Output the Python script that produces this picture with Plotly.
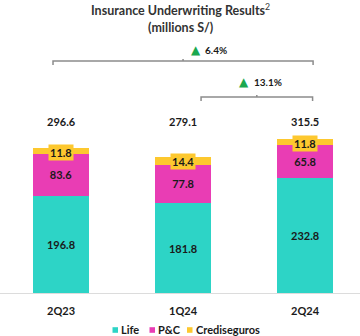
import plotly.graph_objects as go

categories = ["2Q23", "1Q24", "2Q24"]
life = [196.8, 181.8, 232.8]
pc = [83.6, 77.8, 65.8]
crediseguros = [11.8, 14.4, 11.8]
totals = [296.6, 279.1, 315.5]
growth_labels = ["6.4%", "13.1%"]
series_names = ["Life", "P&C", "Crediseguros"]

colors = ["#2DD4C6", "#E93DB4", "#FDC82F"]
FONT = "Lato"
W, H = 360, 336
BASE = 293           # pixel row of the baseline
PX_PER_UNIT = 0.495  # vertical pixels per data unit
X_PX = 122.0         # horizontal pixels per category
TXT = "#1a1a1a"


def py(px):
    """paper y from pixel row"""
    return (BASE - px) / BASE


def pxx(px):
    """paper x from pixel column"""
    return px / W


x_idx = list(range(len(categories)))

fig = go.Figure()
for name, vals, col, show in [
    (series_names[0], life, colors[0], True),
    (series_names[1], pc, colors[1], True),
    (series_names[2], crediseguros, colors[2], False),
]:
    fig.add_trace(go.Bar(
        x=x_idx, y=vals, name=name,
        marker=dict(color=col, line=dict(width=0)),
        width=0.46,
        text=[f"<b>{v:.1f}</b>" for v in vals] if show else None,
        textposition="inside" if show else "none",
        insidetextanchor="middle",
        textangle=0,
        textfont=dict(size=11, color=TXT, family=FONT),
        hoverinfo="skip",
        showlegend=False,
    ))

annotations = []
# yellow labels for Crediseguros
for i, (t, v) in enumerate(zip(totals, crediseguros)):
    annotations.append(dict(
        x=i, y=t, xref="x", yref="y", xanchor="center", yanchor="top", yshift=2,
        text=f"<b>{v:.1f}</b>", showarrow=False,
        bgcolor=colors[2], borderpad=1,
        font=dict(size=11, color=TXT, family=FONT),
    ))
# totals row
label_row = max(totals) + 30
for i, t in enumerate(totals):
    annotations.append(dict(
        x=i, y=label_row, xref="x", yref="y", xanchor="center", yanchor="middle",
        text=f"<b>{t:.1f}</b>", showarrow=False,
        font=dict(size=11, color=TXT, family=FONT),
    ))

# title
annotations.append(dict(
    x=0.5, y=py(9), xref="paper", yref="paper", xanchor="center", yanchor="middle",
    text="<b>Insurance Underwriting Results</b><sup>2</sup>", showarrow=False,
    font=dict(size=12.5, color="#333333", family=FONT),
))
annotations.append(dict(
    x=0.5, y=py(27), xref="paper", yref="paper", xanchor="center", yanchor="middle",
    text="<b>(millions S/)</b>", showarrow=False,
    font=dict(size=12.5, color="#333333", family=FONT),
))

# brackets
shapes = []
brackets = [
    # (x0, x1, pixel row, label, triangle px, text px, label row)
    (0 - 8 / X_PX, 2 + 8 / X_PX, 61, growth_labels[0], 196, 203, 50),
    (1 + 18 / X_PX, 2 + 7.5 / X_PX, 97, growth_labels[1], 244, 252, 82),
]
for x0, x1, row, lab, tri_px, txt_px, lrow in brackets:
    y = py(row)
    yd = py(row + 4)
    yu = py(row - 2)
    xm = (x0 + x1) / 2
    shapes.append(dict(
        type="path", xref="x", yref="paper",
        path=f"M {x0},{yd} L {x0},{y} L {x1},{y} L {x1},{yd}",
        line=dict(color="#8c8c8c", width=1.5),
    ))
    shapes.append(dict(
        type="line", xref="x", yref="paper",
        x0=xm, x1=xm, y0=y, y1=yu,
        line=dict(color="#8c8c8c", width=1.5),
    ))
    annotations.append(dict(
        x=pxx(tri_px), y=py(lrow), xref="paper", yref="paper",
        xanchor="center", yanchor="middle",
        text="▲", showarrow=False,
        font=dict(size=12, color="#1BA84F", family="DejaVu Sans"),
    ))
    annotations.append(dict(
        x=pxx(txt_px), y=py(lrow), xref="paper", yref="paper",
        xanchor="left", yanchor="middle",
        text=f"<b>{lab}</b>", showarrow=False,
        font=dict(size=10, color=TXT, family=FONT),
    ))

# manual legend
legend_row = 330
legend_items = [(112.5, 119), (149.5, 155.5), (187, 194)]
for (sq_px, txt_px), name, col in zip(legend_items, series_names, colors):
    shapes.append(dict(
        type="rect", xref="paper", yref="paper",
        x0=pxx(sq_px), x1=pxx(sq_px + 5.5),
        y0=py(legend_row - 2.8), y1=py(legend_row + 2.8),
        fillcolor=col, line=dict(width=0),
    ))
    annotations.append(dict(
        x=pxx(txt_px), y=py(legend_row), xref="paper", yref="paper",
        xanchor="left", yanchor="middle",
        text=f"<b>{name}</b>", showarrow=False,
        font=dict(size=11, color=TXT, family=FONT),
    ))

fig.update_layout(
    width=W, height=H,
    margin=dict(l=0, r=0, t=0, b=H - BASE),
    barmode="stack",
    plot_bgcolor="white", paper_bgcolor="white",
    font=dict(family=FONT),
    showlegend=False,
    xaxis=dict(
        range=[-0.5, 2.45], tickvals=x_idx, ticktext=[f"<b>{c}</b>" for c in categories],
        showline=True, linecolor="#dcdcdc", linewidth=1,
        showgrid=False, zeroline=False, ticks="",
        tickfont=dict(size=11, color=TXT, family=FONT),
        ticklabelstandoff=8, fixedrange=True,
    ),
    yaxis=dict(range=[0, BASE / PX_PER_UNIT], visible=False, fixedrange=True),
    annotations=annotations,
    shapes=shapes,
)

fig.write_html("out.html")
